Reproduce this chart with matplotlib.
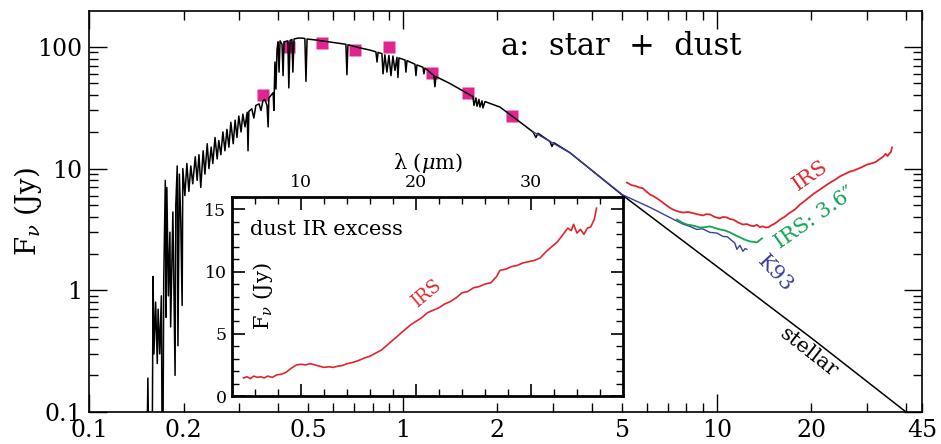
import matplotlib
matplotlib.use('Agg')
import matplotlib.pyplot as plt
from matplotlib.ticker import MultipleLocator, NullFormatter

plt.rcParams['font.family'] = 'DejaVu Serif'
plt.rcParams['mathtext.fontset'] = 'dejavuserif'

RED = '#e0262d'
GREEN = '#12a552'
BLUE = '#3b3f9c'
PINK = '#e2248e'

# model stellar spectrum (micron, Jy)
star_wave = [0.153, 0.154, 0.155, 0.159, 0.160, 0.161, 0.163, 0.165, 0.166, 0.168,
             0.170, 0.171, 0.172, 0.173, 0.175, 0.176, 0.177, 0.179, 0.181, 0.182,
             0.185, 0.187, 0.188, 0.189, 0.191, 0.192, 0.194, 0.196, 0.198, 0.199,
             0.202, 0.205, 0.208, 0.211, 0.214, 0.218, 0.221, 0.224, 0.227, 0.231,
             0.234, 0.238, 0.241, 0.245, 0.248, 0.252, 0.256, 0.259, 0.263, 0.267,
             0.271, 0.275, 0.279, 0.283, 0.288, 0.292, 0.296, 0.300, 0.305, 0.309,
             0.314, 0.319, 0.321, 0.323, 0.330, 0.335, 0.340, 0.348, 0.353, 0.358,
             0.363, 0.369, 0.372, 0.374, 0.380, 0.386, 0.388, 0.391, 0.394, 0.397,
             0.400, 0.403, 0.406, 0.412, 0.415, 0.418, 0.430, 0.433, 0.437, 0.443,
             0.446, 0.450, 0.463, 0.477, 0.487, 0.491, 0.495, 0.525, 0.564, 0.607,
             0.658, 0.663, 0.668, 0.730, 0.785, 0.820, 0.827, 0.833, 0.857, 0.864,
             0.876, 0.889, 0.902, 0.916, 0.929, 0.943, 0.957, 0.964, 0.971, 1.015,
             1.022, 1.030, 1.092, 1.100, 1.108, 1.158, 1.166, 1.175, 1.255, 1.264,
             1.274, 1.411, 1.587, 1.671, 1.683, 1.708, 1.721, 1.746, 1.759, 1.785,
             1.798, 1.825, 2.037, 2.307, 2.594, 2.652, 2.692, 2.939, 2.982, 3.026,
             3.403, 4.98, 10.0, 20.0, 40.0, 45.0]
star_flux = [0.05, 0.19, 0.05, 0.05, 1.3, 0.3, 0.8, 0.25, 0.7, 0.3,
             0.9, 0.05, 0.05, 1.2, 8.0, 0.6, 7.0, 0.9, 3.0, 0.5,
             4.4, 0.5, 0.2, 5.0, 10.5, 0.35, 9.0, 3.7, 0.75, 10.0,
             6.0, 11.0, 6.5, 10.5, 7.5, 12.5, 8.0, 13.0, 7.0, 14.0,
             9.0, 16.0, 10.0, 15.0, 11.0, 18.0, 12.0, 17.0, 13.0, 20.0,
             14.0, 21.0, 15.0, 24.0, 16.0, 25.0, 18.0, 27.0, 20.0, 28.0,
             22.0, 29.0, 14.0, 29.5, 31.0, 26.0, 33.0, 34.0, 30.0, 36.0,
             37.0, 33.0, 22.0, 38.0, 40.0, 42.0, 30.0, 75.0, 45.0, 95.0,
             110.0, 62.0, 112.0, 105.0, 58.0, 110.0, 112.0, 46.0, 113.0, 115.0,
             62.0, 116.0, 118.0, 118.0, 117.0, 52.0, 116.0, 114.0, 111.0, 108.0,
             105.0, 59.0, 104.0, 98.0, 94.0, 91.0, 75.0, 90.0, 88.0, 60.0,
             86.0, 62.0, 85.0, 58.0, 84.0, 64.0, 82.0, 56.0, 81.0, 78.0,
             62.0, 77.0, 72.0, 58.0, 71.0, 68.0, 60.0, 67.0, 58.0, 47.0,
             57.0, 50.0, 42.0, 39.0, 33.0, 38.0, 32.5, 37.0, 32.0, 36.0,
             31.5, 35.5, 32.0, 25.2, 20.0, 18.0, 19.5, 16.7, 15.2, 16.3,
             13.5, 6.1, 1.57, 0.405, 0.1, 0.079]

# Kurucz K93 model
k93_wave = [2.6, 3.4, 5.0, 6.12, 7.46, 7.8, 8.20, 8.63, 9.0, 9.50, 10.0, 10.45,
            10.8, 11.24, 11.4, 11.58, 11.84, 12.10, 12.3, 12.46]
k93_flux = [20.0, 13.5, 6.1, 4.8, 3.7, 3.5, 3.35, 3.16, 3.2, 2.99, 2.95, 2.77,
            2.75, 2.52, 2.45, 2.17, 2.34, 2.09, 2.2, 2.17]

# IRS spectrum, 3.6" aperture
irs36_wave = [7.46, 7.75, 8.03, 8.4, 8.83, 9.2, 9.50, 9.85, 10.22, 10.6, 11.0, 11.4,
              11.84, 12.3, 12.74, 13.1, 13.41, 13.91]
irs36_flux = [3.82, 3.6, 3.47, 3.4, 3.28, 3.3, 3.35, 3.25, 3.16, 3.1, 2.99, 2.85,
              2.72, 2.6, 2.52, 2.5, 2.47, 2.67]

# IRS spectrum, full
irs_wave = [5.17, 5.35, 5.5, 5.65, 5.8, 5.95, 6.12, 6.3, 6.5, 6.7, 6.9, 7.05, 7.24,
            7.5, 7.8, 8.1, 8.4, 8.7, 9.02, 9.25, 9.5, 9.85, 10.2, 10.45, 10.75,
            11.0, 11.3, 11.7, 12.1, 12.45, 12.8, 13.1, 13.4, 13.7, 14.0, 14.3, 14.6,
            14.9, 15.2, 15.5, 15.9, 16.4, 17.0, 17.7, 18.4, 19.0, 19.5, 20.3, 21.3,
            22.1, 23.0, 23.8, 24.6, 25.5, 26.5, 27.2, 28.0, 29.0, 30.1, 31.0, 32.0,
            32.9, 33.8, 34.2, 34.5, 34.8, 35.0, 35.3, 35.5, 35.8, 36.1]
irs_flux = [7.67, 7.3, 7.2, 7.0, 6.9, 6.5, 6.12, 5.9, 5.6, 5.3, 5.0, 4.8, 4.61,
            4.45, 4.35, 4.4, 4.3, 4.2, 4.12, 4.22, 4.2, 4.0, 3.9, 4.0, 3.97,
            3.85, 3.8, 3.6, 3.47, 3.5, 3.4, 3.36, 3.45, 3.3, 3.35, 3.28, 3.3,
            3.42, 3.5, 3.62, 3.82, 4.0, 4.3, 4.6, 5.07, 5.4, 5.7, 6.2, 6.73,
            7.2, 7.7, 8.1, 8.59, 9.0, 9.44, 9.6, 9.9, 10.3, 10.8, 11.0, 11.3,
            11.9, 12.5, 12.9, 13.2, 12.8, 12.7, 13.1, 13.4, 13.6, 14.9]

# UBVRIJHK photometry
phot_wave = [0.358, 0.433, 0.552, 0.703, 0.903, 1.237, 1.611, 2.224]
phot_flux = [40.5, 100.0, 108.0, 94.5, 100.0, 61.2, 42.0, 27.2]

# dust excess (IRS minus photosphere)
exc_wave = [5.0, 5.3, 5.6, 5.9, 6.2, 6.5, 6.8, 7.1, 7.5, 7.9, 8.3, 8.7, 9.1, 9.6,
            10.0, 10.4, 10.8, 11.2, 11.6, 12.0, 12.4, 12.8, 13.2, 13.6, 14.0, 14.5,
            15.0, 15.5, 16.0, 16.5, 17.0, 17.5, 18.0, 18.5, 19.0, 19.5, 20.0, 20.5,
            21.0, 21.5, 22.0, 22.5, 23.0, 23.5, 24.0, 24.5, 25.0, 25.5, 26.0, 26.5,
            27.0, 27.3, 27.8, 28.3, 28.8, 29.3, 29.8, 30.3, 30.8, 31.3, 31.8, 32.3,
            32.8, 33.2, 33.5, 33.7, 34.0, 34.3, 34.6, 34.9, 35.2, 35.5, 35.7]
exc_flux = [1.45, 1.55, 1.4, 1.6, 1.5, 1.55, 1.45, 1.6, 1.5, 1.7, 1.75, 1.9, 2.2, 2.5,
            2.55, 2.5, 2.6, 2.5, 2.4, 2.3, 2.35, 2.3, 2.4, 2.45, 2.6, 2.7,
            2.85, 3.05, 3.2, 3.45, 3.7, 4.1, 4.5, 4.9, 5.3, 5.7, 6.0, 6.3,
            6.7, 6.9, 7.1, 7.4, 7.6, 7.9, 8.3, 8.4, 8.7, 8.8, 9.0, 9.1,
            9.6, 10.1, 10.2, 10.4, 10.5, 10.7, 10.8, 10.9, 11.1, 11.6, 12.0, 12.4,
            13.0, 13.5, 13.3, 13.8, 13.1, 13.4, 13.0, 13.5, 13.6, 14.2, 15.1]

fig = plt.figure(figsize=(9.41, 4.44), dpi=100)
ax = fig.add_axes([89/941, 32/444, 833/941, 401/444])

ax.plot(phot_wave, phot_flux, 's', color=PINK, ms=8, mec='none', zorder=2)
ax.plot(star_wave, star_flux, color='k', lw=1.1, zorder=3)
ax.plot(k93_wave, k93_flux, color=BLUE, lw=1.0, zorder=4)
ax.plot(irs36_wave, irs36_flux, color=GREEN, lw=1.3, zorder=4)
ax.plot(irs_wave, irs_flux, color=RED, lw=1.3, zorder=4)

ax.set_xscale('log')
ax.set_yscale('log')
ax.set_xlim(0.1, 45)
ax.set_ylim(0.1, 197)

xminor = [0.2, 0.3, 0.4, 0.5, 0.6, 0.7, 0.8, 0.9, 2, 3, 4, 5, 6, 7, 8, 9, 20, 30, 40, 45]
xminor_lab = ['0.2', '', '', '0.5', '', '', '', '', '2', '', '', '5', '', '', '', '',
              '20', '', '', '45']
ax.set_xticks([0.1, 1, 10], ['0.1', '1', '10'])
ax.set_xticks(xminor, xminor_lab, minor=True)
yminor = [m * d for d in (0.1, 1, 10, 100) for m in range(2, 10)]
ax.set_yticks([0.1, 1, 10, 100], ['0.1', '1', '10', '100'])
ax.set_yticks([y for y in yminor if y < 197], minor=True)
ax.yaxis.set_minor_formatter(NullFormatter())
ax.tick_params(which='both', direction='in', top=True, right=True, labelsize=17, pad=5)
ax.tick_params(which='major', length=13, width=1)
ax.tick_params(which='minor', length=6.5, width=1)
for sp in ax.spines.values():
    sp.set_linewidth(1.2)

ax.set_ylabel(r'F$_\nu$ (Jy)', fontsize=20)
ax.yaxis.set_label_coords(-0.054, 0.5)

ax.text(0.639, 0.890, 'a:  star  +  dust', transform=ax.transAxes,
        ha='center', va='baseline', fontsize=22)
ax.text(19.8, 8.8, 'IRS', color=RED, rotation=35, ha='center', va='center', fontsize=15)
ax.text(20.5, 3.96, 'IRS: 3.6\u2033', color=GREEN, rotation=35, ha='center', va='center', fontsize=15)
ax.text(15.4, 1.38, 'K93', color=BLUE, rotation=-47, ha='center', va='center', fontsize=15)
ax.text(19.6, 0.31, 'stellar', rotation=-38, ha='center', va='center', fontsize=15)

# inset: IR excess on a linear scale
axi = fig.add_axes([232/941, 48/444, 391/941, 199/444])
axi.plot(exc_wave, exc_flux, color=RED, lw=1.2)
axi.set_xlim(4, 38)
axi.set_ylim(0, 16)
axi.set_xticks([10, 20, 30])
axi.xaxis.set_minor_locator(MultipleLocator(2))
axi.set_yticks([0, 5, 10, 15])
axi.yaxis.set_minor_locator(MultipleLocator(1))
axi.tick_params(which='both', direction='in', top=True, bottom=True, left=True, right=True,
                labeltop=True, labelbottom=False, labelsize=12.5, pad=4)
axi.tick_params(which='major', length=9, width=1.2)
axi.tick_params(which='minor', length=5, width=1)
for sp in axi.spines.values():
    sp.set_linewidth(2)
axi.xaxis.set_label_position('top')
axi.set_xlabel(r'λ ($\mu$m)', fontsize=15, labelpad=4)
axi.text(0.046, 0.81, 'dust IR excess', transform=axi.transAxes, fontsize=15, va='baseline')
axi.text(0.079, 0.5, r'F$_\nu$ (Jy)', transform=axi.transAxes, rotation=90,
         ha='center', va='center', fontsize=15)
axi.text(20.9, 8.2, 'IRS', color=RED, rotation=40, ha='center', va='center', fontsize=13)

fig.savefig('out.png', dpi=100)
